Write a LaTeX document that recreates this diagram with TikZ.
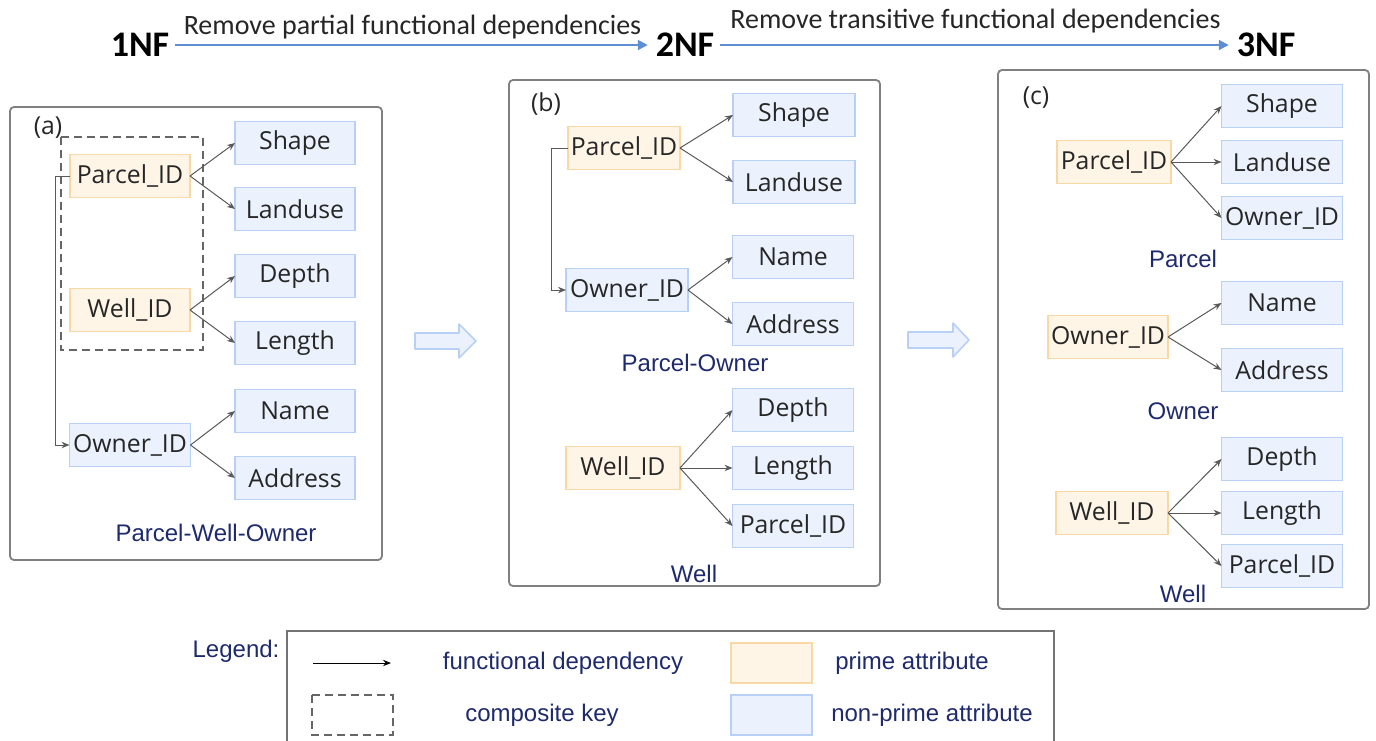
\documentclass[tikz,border=0pt]{standalone}
\usepackage{fontspec}
\setmainfont{Open Sans}
\newfontfamily\capfont{Liberation Sans}
\newfontfamily\titlefont{Carlito}
\usetikzlibrary{arrows.meta}

\definecolor{primefill}{HTML}{FFF5E7}
\definecolor{primeline}{HTML}{F8D8A4}
\definecolor{npfill}{HTML}{EBF2FE}
\definecolor{npline}{HTML}{B8D0F6}
\definecolor{navy}{HTML}{1E2A6C}
\definecolor{stepblue}{HTML}{5E8FD3}

\begin{document}
\begin{tikzpicture}[x=0.5pt,y=-0.5pt,inner sep=0pt,outer sep=0pt,
attr/.style={draw,rectangle,minimum width=60pt,minimum height=21.5pt,inner sep=0pt,line width=0.6pt,font=\fontsize{12.4}{15}\selectfont,text=black!85},
prime/.style={attr,draw=primeline,fill=primefill},
nonprime/.style={attr,draw=npline,fill=npfill},
fd/.style={-{Stealth[length=4pt,width=3.2pt]},draw=black!65,line width=0.5pt},
panel/.style={draw=black!50,rounded corners=2pt,line width=0.9pt},
compkey/.style={draw=black!60,dash pattern=on 4pt off 2.5pt,line width=0.8pt},
relname/.style={font=\capfont\fontsize{12}{14}\selectfont,text=navy},
tag/.style={font=\fontsize{12.4}{15}\selectfont,text=black!85},
nf/.style={font=\titlefont\bfseries\fontsize{18}{20}\selectfont},
steparrow/.style={-{Triangle[length=5pt,width=5pt]},draw=stepblue,line width=1pt},
bigarrow/.style={draw=npline,fill=npfill,line width=0.8pt,line join=round}]

\useasboundingbox (0,0) rectangle (1376,740);
\clip (0,0) rectangle (1376,740);

% normal forms
\node[nf] (n1) at (140,45) {1NF};
\node[nf] (n2) at (685,45) {2NF};
\node[nf] (n3) at (1266,45) {3NF};
\draw[steparrow,shorten <=3pt,shorten >=4pt] (n1.east) -- (n2.west)
  node[midway,above=3pt,font=\titlefont\fontsize{14}{16}\selectfont,text=black!85] {Remove partial functional dependencies};
\draw[steparrow,shorten <=3pt,shorten >=4pt] (n2.east) -- (n3.west)
  node[midway,above=6pt,font=\titlefont\fontsize{14}{16}\selectfont,text=black!85] {Remove transitive functional dependencies};

% (a) 1NF
\draw[panel] (10,107) rectangle (382,560);
\node[tag] (ta) at (48,128) {(a)};
\draw[compkey] (61,137) rectangle (203,350);
\node[prime] (aPar) at (130,176) {Parcel\_ID};
\node[nonprime] (aShape) at (295,143) {Shape};
\node[nonprime] (aLand) at (295,209) {Landuse};
\node[prime] (aWell) at (130,310) {Well\_ID};
\node[nonprime] (aDepth) at (295,276) {Depth};
\node[nonprime] (aLen) at (295,343) {Length};
\node[nonprime,minimum width=60.5pt] (aOwn) at (130,445) {Owner\_ID};
\node[nonprime] (aName) at (295,411) {Name};
\node[nonprime] (aAddr) at (295,478) {Address};
\node[relname] (ra) at (216,533) {Parcel-Well-Owner};

\draw[fd] (aPar.east) -- (aShape.west);
\draw[fd] (aPar.east) -- (aLand.west);
\draw[fd] (aWell.east) -- (aDepth.west);
\draw[fd] (aWell.east) -- (aLen.west);
\draw[fd] (aOwn.east) -- (aName.west);
\draw[fd] (aOwn.east) -- (aAddr.west);
\draw[fd] (aPar.west) -- ++(-15,0) |- (aOwn.west);

\draw[bigarrow] (415,333) -- (459,333) -- (459,324) -- (476,341) -- (459,358) -- (459,349) -- (415,349) -- cycle;

% (b) 2NF
\draw[panel] (509,80) rectangle (880,586);
\node[tag] (tb) at (546,104) {(b)};
\node[prime,minimum width=56pt] (bPar) at (624,148) {Parcel\_ID};
\node[nonprime,minimum width=61pt] (bShape) at (794,115) {Shape};
\node[nonprime,minimum width=61pt] (bLand) at (794,182) {Landuse};
\node[nonprime,minimum width=61pt] (bOwn) at (627,290) {Owner\_ID};
\node[nonprime,minimum width=60.5pt] (bName) at (793,257) {Name};
\node[nonprime,minimum width=60.5pt] (bAddr) at (793,324) {Address};
\node[relname] (rb1) at (695,363) {Parcel-Owner};
\node[prime,minimum width=57pt] (bWell) at (623,468) {Well\_ID};
\node[nonprime,minimum width=60.5pt] (bDepth) at (793,410) {Depth};
\node[nonprime,minimum width=60.5pt] (bLen) at (793,468) {Length};
\node[nonprime,minimum width=60.5pt] (bPid) at (793,526) {Parcel\_ID};
\node[relname] (rb2) at (694,574) {Well};

\draw[fd] (bPar.east) -- (bShape.west);
\draw[fd] (bPar.east) -- (bLand.west);
\draw[fd] (bOwn.east) -- (bName.west);
\draw[fd] (bOwn.east) -- (bAddr.west);
\draw[fd] (bPar.west) -- ++(-17,0) |- (bOwn.west);
\draw[fd] (bWell.east) -- (bDepth.west);
\draw[fd] (bWell.east) -- (bLen.west);
\draw[fd] (bWell.east) -- (bPid.west);

\draw[bigarrow] (908,332) -- (953,332) -- (953,323) -- (969,340) -- (953,357) -- (953,348) -- (908,348) -- cycle;

% (c) 3NF
\draw[panel] (998,70) rectangle (1369,609);
\node[tag] (tc) at (1036,98) {(c)};
\node[prime,minimum width=57pt] (cPar) at (1114,162) {Parcel\_ID};
\node[nonprime,minimum width=60.5pt] (cShape) at (1282,106) {Shape};
\node[nonprime,minimum width=60.5pt] (cLand) at (1282,162) {Landuse};
\node[nonprime,minimum width=60.5pt] (cOwn) at (1282,218) {Owner\_ID};
\node[relname] (rc1) at (1183,259) {Parcel};
\node[prime] (cOwnK) at (1108,337) {Owner\_ID};
\node[nonprime,minimum width=60.5pt] (cName) at (1282,303) {Name};
\node[nonprime,minimum width=60.5pt] (cAddr) at (1282,370) {Address};
\node[relname] (rc2) at (1183,411) {Owner};
\node[prime,minimum width=56pt] (cWell) at (1112,513) {Well\_ID};
\node[nonprime,minimum width=60.5pt] (cDepth) at (1282,459) {Depth};
\node[nonprime,minimum width=60.5pt] (cLen) at (1282,513) {Length};
\node[nonprime,minimum width=60.5pt] (cPid) at (1282,566) {Parcel\_ID};
\node[relname] (rc3) at (1183,594) {Well};

\draw[fd] (cPar.east) -- (cShape.west);
\draw[fd] (cPar.east) -- (cLand.west);
\draw[fd] (cPar.east) -- (cOwn.west);
\draw[fd] (cOwnK.east) -- (cName.west);
\draw[fd] (cOwnK.east) -- (cAddr.west);
\draw[fd] (cWell.east) -- (cDepth.west);
\draw[fd] (cWell.east) -- (cLen.west);
\draw[fd] (cWell.east) -- (cPid.west);

% legend
\node[relname] (lg) at (236,651) {Legend:};
\draw[draw=black!55,line width=0.9pt] (287,631) rectangle (1054,780);
\coordinate (lgA) at (313,663);
\coordinate (lgB) at (391,663);
\draw[fd,draw=black] (lgA) -- (lgB);
\node[relname] (lfd) at (563,663) {functional dependency};
\node[prime,minimum width=40.5pt,minimum height=20pt] (lpr) at (771.5,663) {};
\node[relname] (lprt) at (912,663) {prime attribute};
\draw[compkey] (312,695) rectangle (393,735);
\node[relname] (lck) at (542,715) {composite key};
\node[nonprime,minimum width=40.5pt,minimum height=20pt] (lnp) at (771.5,715) {};
\node[relname] (lnpt) at (932,715) {non-prime attribute};
\end{tikzpicture}
\end{document}
